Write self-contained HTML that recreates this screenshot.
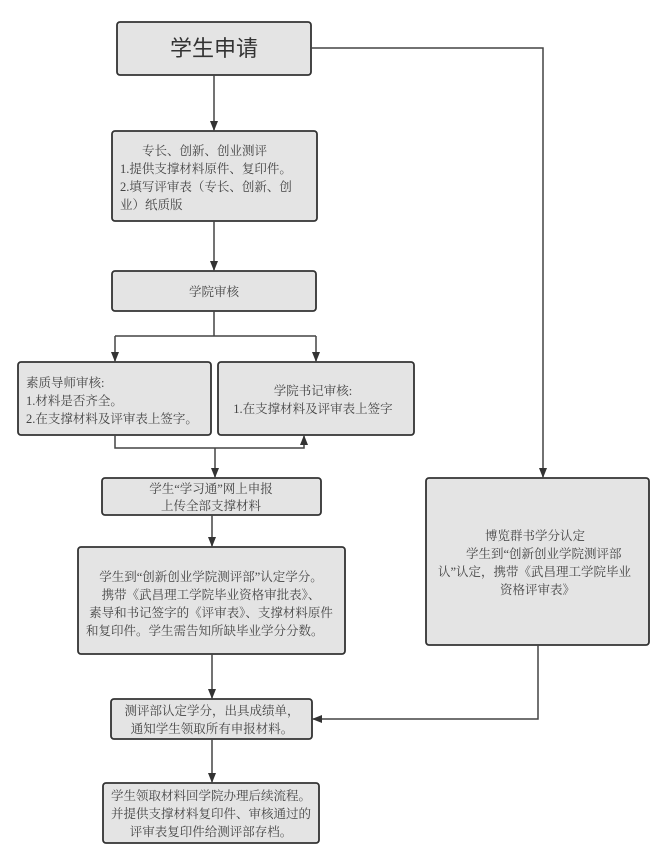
<!DOCTYPE html>
<html><head><meta charset="utf-8"><style>
html,body{margin:0;padding:0;background:#fff;width:668px;height:866px;overflow:hidden}
svg text{font-family:"Liberation Serif","Noto Serif CJK SC",serif;fill:#444;font-size:12.5px}
</style></head><body>
<svg width="668" height="866" viewBox="0 0 668 866" xmlns="http://www.w3.org/2000/svg">
<defs><marker id="a" markerWidth="10" markerHeight="10" refX="9" refY="5" orient="auto" markerUnits="userSpaceOnUse"><path d="M0,1 L10,5 L0,9 Z" fill="#333"/></marker></defs>
<g fill="#e4e4e4" stroke="#333" stroke-width="1.8">
<rect x="117" y="22" width="194" height="53" rx="3"/>
<rect x="112" y="131" width="205" height="90" rx="3"/>
<rect x="112" y="271" width="204" height="40" rx="3"/>
<rect x="18" y="362" width="193" height="73" rx="3"/>
<rect x="218" y="362" width="196" height="73" rx="3"/>
<rect x="102" y="478" width="219" height="37" rx="3"/>
<rect x="78" y="547" width="267" height="107" rx="3"/>
<rect x="111" y="699" width="201" height="40" rx="3"/>
<rect x="103" y="783" width="216" height="60" rx="3"/>
<rect x="426" y="478" width="223" height="167" rx="3"/>
</g>
<g stroke="#444" stroke-width="1.5" fill="none">
<path d="M214,75 V130" marker-end="url(#a)"/>
<path d="M214,221 V270" marker-end="url(#a)"/>
<path d="M214,311 V336 M115,336 H316"/>
<path d="M115,336 V361" marker-end="url(#a)"/>
<path d="M316,336 V361" marker-end="url(#a)"/>
<path d="M115,435 V448 H304 V436" marker-end="url(#a)"/>
<path d="M215,448 V477" marker-end="url(#a)"/>
<path d="M212,515 V546" marker-end="url(#a)"/>
<path d="M212,654 V698" marker-end="url(#a)"/>
<path d="M212,739 V782" marker-end="url(#a)"/>
<path d="M311,48 H543 V477" marker-end="url(#a)"/>
<path d="M538,645 V719 H313" marker-end="url(#a)"/>
</g>
<text x="214" y="56" text-anchor="middle" style="font-size:22px;font-family:'Liberation Sans','Noto Sans CJK SC',sans-serif;fill:#333">学生申请</text>
<text x="142" y="155">专长、创新、创业测评</text>
<text x="120" y="173">1.提供支撑材料原件、复印件。</text>
<text x="120" y="191">2.填写评审表（专长、创新、创</text>
<text x="120" y="209">业）纸质版</text>
<text x="214" y="296" text-anchor="middle">学院审核</text>
<text x="26" y="387">素质导师审核:</text>
<text x="26" y="405">1.材料是否齐全。</text>
<text x="26" y="423">2.在支撑材料及评审表上签字。</text>
<text x="313" y="395" text-anchor="middle">学院书记审核:</text>
<text x="313" y="413" text-anchor="middle">1.在支撑材料及评审表上签字</text>
<text x="211" y="493" text-anchor="middle">学生“学习通”网上申报</text>
<text x="211" y="510" text-anchor="middle">上传全部支撑材料</text>
<text x="211" y="581" text-anchor="middle">学生到“创新创业学院测评部”认定学分。</text>
<text x="211" y="599" text-anchor="middle">携带《武昌理工学院毕业资格审批表》、</text>
<text x="211" y="617" text-anchor="middle">素导和书记签字的《评审表》、支撑材料原件</text>
<text x="86" y="635">和复印件。学生需告知所缺毕业学分分数。</text>
<text x="212" y="715" text-anchor="middle">测评部认定学分，出具成绩单，</text>
<text x="212" y="733" text-anchor="middle">通知学生领取所有申报材料。</text>
<text x="211" y="800" text-anchor="middle">学生领取材料回学院办理后续流程。</text>
<text x="211" y="818" text-anchor="middle">并提供支撑材料复印件、审核通过的</text>
<text x="211" y="836" text-anchor="middle">评审表复印件给测评部存档。</text>
<text x="485" y="540">博览群书学分认定</text>
<text x="466" y="558">学生到“创新创业学院测评部</text>
<text x="438" y="576">认”认定，携带《武昌理工学院毕业</text>
<text x="500" y="594">资格评审表》</text>
</svg>
</body></html>
